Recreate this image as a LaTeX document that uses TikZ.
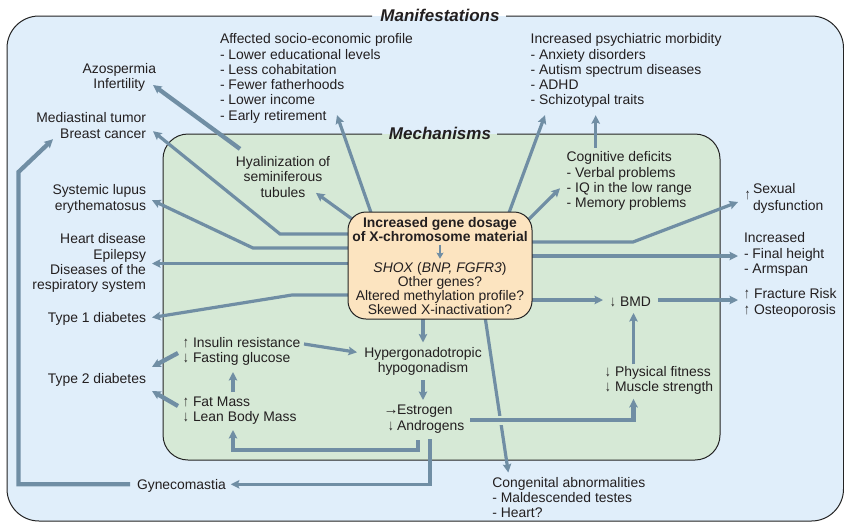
\documentclass[tikz,border=0pt]{standalone}
\usepackage{fontspec}
\setmainfont{Liberation Sans}
\usetikzlibrary{arrows.meta,calc}
\pgfdeclarelayer{bgl}
\pgfdeclarelayer{connl}
\pgfsetlayers{bgl,connl,main}
\definecolor{outerbg}{RGB}{224,238,250}
\definecolor{innerbg}{RGB}{214,233,214}
\definecolor{genebg}{RGB}{252,228,192}
\definecolor{conncol}{RGB}{112,142,164}
\definecolor{edgecol}{RGB}{35,35,35}
\definecolor{txtcol}{RGB}{35,31,32}
\newcommand\arrsz{\fontsize{15pt}{15pt}\selectfont}
\newcommand\uglyph{\smash{\scalebox{0.75}[1]{\arrsz ↑}}}
\newcommand\dglyph{\smash{\scalebox{0.75}[1]{\arrsz ↓}}}
\newcommand\uarr{\makebox[10pt][l]{\uglyph}}
\newcommand\darr{\makebox[10pt][l]{\dglyph}}
\newcommand\rarrc{\makebox[12pt][c]{\smash{\arrsz →}}}
\newcommand\darrc{\makebox[12pt][c]{\dglyph}}
\begin{document}
\begin{tikzpicture}[x=1pt,y=-1pt,
  lbl/.style={inner sep=0pt, outer sep=0pt, font=\fontsize{13.9pt}{15.3pt}\selectfont, text=txtcol},
  ttl/.style={inner sep=0pt, font=\fontsize{17pt}{17pt}\selectfont\bfseries\itshape, text=txtcol},
  conn/.style={draw=conncol, line width=3.2pt, -{Stealth[length=8.5pt,width=8.5pt,inset=1.5pt]}},
  thickconn/.style={conn, line width=4.3pt},
  gapped/.style={preaction={draw=innerbg, line width=9pt, -}},
]
\useasboundingbox (0,0) rectangle (844,523);

\begin{pgfonlayer}{bgl}
\fill[outerbg, rounded corners=32pt] (7,16) rectangle (843.5,521);
\fill[innerbg, rounded corners=25pt] (163,134) rectangle (720,460);
\draw[edgecol, line width=1pt, rounded corners=32pt] (372,16) -- (7,16) -- (7,521) -- (843.5,521) -- (843.5,16) -- (506,16);
\draw[edgecol, line width=1pt, rounded corners=25pt] (382,134) -- (163,134) -- (163,460) -- (720,460) -- (720,134) -- (497,134);
\end{pgfonlayer}

\node[ttl] (mantitle) at (440,15) {Manifestations};
\node[ttl] (mechtitle) at (440,133) {Mechanisms};

\node[draw=edgecol, line width=1pt, fill=genebg, rounded corners=18pt, minimum width=184pt, minimum height=107pt, inner sep=0pt] (gene) at (440,265.5) {};
\node[lbl, font=\fontsize{13.9pt}{14pt}\selectfont\bfseries, align=center, anchor=north] (genehead) at (440,217.7) {Increased gene dosage\\of X-chromosome material};
\node[lbl, font=\fontsize{13.9pt}{14pt}\selectfont, align=center, anchor=north] (genelist) at (440,262.7) {\textit{SHOX} (\textit{BNP, FGFR3})\\Other genes?\\Altered methylation profile?\\Skewed X-inactivation?};
\draw[conncol, line width=2.2pt, -{Stealth[length=6pt,width=7pt,inset=1pt]}] ($(genehead.south)+(0,3)$) -- ($(genelist.north)+(0,-4)$);

\node[lbl, align=center, anchor=north east] (azo) at (156,63) {Azospermia\\Infertility};
\node[lbl, align=right, anchor=north east] (medi) at (146,112.7) {Mediastinal tumor\\Breast cancer};
\node[lbl, align=right, anchor=north east] (sle) at (146,184.7) {Systemic lupus\\erythematosus};
\node[lbl, align=right, anchor=north east] (heart) at (146,233.7) {Heart disease\\Epilepsy\\Diseases of the\\respiratory system};
\node[lbl, anchor=north east] (t1) at (146,312.7) {Type 1 diabetes};
\node[lbl, anchor=north east] (t2) at (146,373) {Type 2 diabetes};
\node[lbl, anchor=base west] (gyn) at (137,489.5) {Gynecomastia};
\node[lbl, align=left, anchor=north west] (socio) at (220,33.7) {Affected socio-economic profile\\- Lower educational levels\\- Less cohabitation\\- Fewer fatherhoods\\- Lower income\\- Early retirement};
\node[lbl, align=left, anchor=north west] (psych) at (530.7,33.7) {Increased psychiatric morbidity\\- Anxiety disorders\\- Autism spectrum diseases\\- ADHD\\- Schizotypal traits};
\node[lbl, align=center, anchor=north] (hyal) at (283,156.4) {Hyalinization of\\seminiferous\\tubules};
\node[lbl, align=left, anchor=north west] (cog) at (566.7,151.7) {Cognitive deficits\\- Verbal problems\\- IQ in the low range\\- Memory problems};
\node[lbl, align=left, anchor=north west] (sex) at (753,183.7) {\llap{\raisebox{-6pt}{\uglyph}\hspace{2.5pt}}Sexual\\dysfunction};
\node[lbl, align=left, anchor=north west] (height) at (744,232.7) {Increased\\- Final height\\- Armspan};
\node[lbl, align=left, anchor=north west] (frac) at (744,288.7) {\uarr Fracture Risk\\\uarr Osteoporosis};
\node[lbl, anchor=base west] (bmd) at (610,306) {\darr BMD};
\node[lbl, align=left, anchor=north west] (fit) at (605,366.4) {\darr Physical fitness\\\darr Muscle strength};
\node[lbl, align=center, anchor=north] (hyper) at (423,347) {Hypergonadotropic\\hypogonadism};
\node[lbl, align=left, anchor=north west] (estr) at (385,405.4) {\rarrc Estrogen\\\darrc Androgens};
\node[lbl, align=left, anchor=north west] (ins) at (183,337.4) {\uarr Insulin resistance\\\darr Fasting glucose};
\node[lbl, align=left, anchor=north west] (fat) at (183,397) {\uarr Fat Mass\\\darr Lean Body Mass};
\node[lbl, align=left, anchor=north west] (cong) at (492.3,477) {Congenital abnormalities\\- Maldescended testes\\- Heart?};

\begin{pgfonlayer}{connl}
\draw[thickconn] ($(hyal.north)+(-43,-7.5)$) -- ($(azo.north east)+(-3,22)$);
\draw[conn] ($(gene.north west)+(8,10)$) -- ($(hyal.north)+(33,36.5)$);
\draw[conn] ($(gene.west)+(5,-31.5)$) -- (280,234) -- ($(medi.north east)+(7,18.5)$);
\draw[conn] ($(gene.west)+(5,-17.5)$) -- (253,248) -- ($(sle.north east)+(6,15.5)$);
\draw[conn] ($(gene.west)+(5,-2)$) -- ($(heart.north east)+(6,29.8)$);
\draw[conn] ($(gene.west)+(5,29.5)$) -- (292,295) -- ($(t1.north east)+(6,4.8)$);
\draw[conn] ($(gene.north)+(-68,4)$) -- ($(socio.north west)+(117,81.5)$);
\draw[conn] ($(gene.north)+(68,4)$) -- ($(psych.north west)+(14.3,81.5)$);
\draw[conn] ($(gene.north east)+(-10,14)$) -- ($(cog.north west)+(-6.7,36.6)$);
\draw[conn, line width=2.8pt] ($(cog.north west)+(29,-4)$) -- ($(psych.north west)+(65,81.5)$);
\draw[conn] ($(gene.east)+(-5,-23.5)$) -- (633,242) -- ($(sex.north west)+(-15,18.3)$);
\draw[conn] ($(gene.east)+(-5,-9.5)$) -- ($(height.north west)+(-6,23.3)$);
\draw[conn] ($(gene.east)+(-5,34.5)$) -- ($(bmd.base west)+(-7,-6)$);
\draw[thickconn] ($(bmd.base east)+(7,-6)$) -- ($(frac.north west)+(-6,11.3)$);
\draw[conn] ($(fit.north west)+(28.5,-2)$) -- ($(bmd.base west)+(23.5,7)$);
\draw[conn] ($(gene.south)+(45,-3)$) -- ($(cong.north west)+(16,-4.5)$);
\draw[thickconn, gapped] ($(estr.north west)+(85,14.6)$) -- (633.5,420) -- ($(fit.north west)+(28.5,32.5)$);
\draw[conn] ($(gene.south)+(-17,-3)$) -- ($(hyper.north)+(0,-4.5)$);
\draw[conn] ($(hyper.north)+(0,33)$) -- ($(estr.north west)+(38,-5.4)$);
\draw[conn] ($(ins.north west)+(121,6.6)$) -- ($(hyper.north)+(-66,5.3)$);
\draw[thickconn] ($(ins.north west)+(-5,15.6)$) -- ($(t2.north east)+(6,-6)$);
\draw[thickconn] ($(fat.north west)+(-5,9)$) -- ($(t2.north east)+(6,18)$);
\draw[conn] ($(fat.north west)+(50,-5)$) -- ($(ins.north west)+(50,34.6)$);
\draw[conn] ($(estr.north west)+(33,34.6)$) -- ++(0,10) -| ($(fat.north west)+(50,33)$);
\draw[conn] ($(estr.north west)+(45,33.6)$) |- ($(gyn.base east)+(5,-5.2)$);
\draw[thickconn] ($(gyn.base west)+(-7,-5.2)$) -| (18.5,172) -- ($(medi.north east)+(-93,26.5)$);
\end{pgfonlayer}
\end{tikzpicture}
\end{document}
